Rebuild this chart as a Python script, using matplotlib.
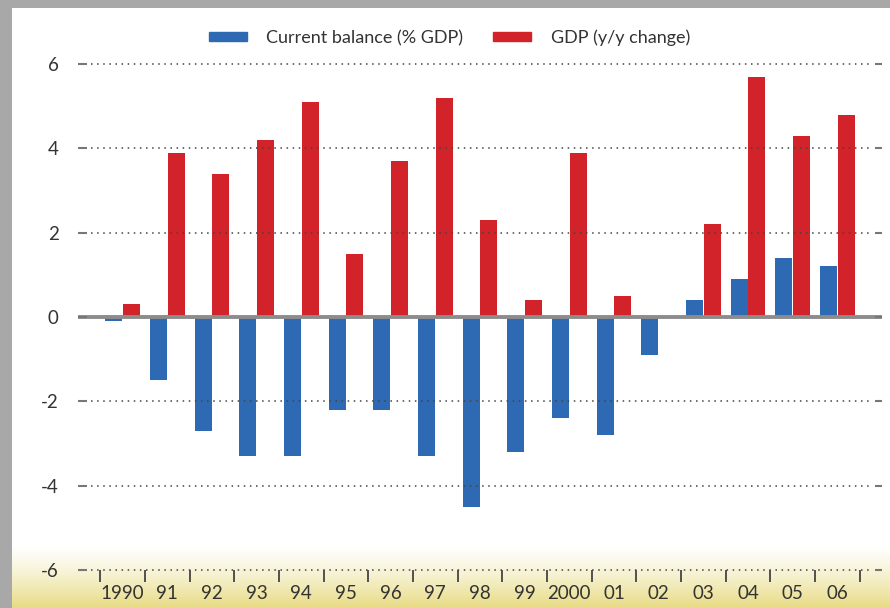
import numpy as np
import matplotlib
matplotlib.use("Agg")
import matplotlib.pyplot as plt
from matplotlib.patches import Rectangle

years = ["1990", "91", "92", "93", "94", "95", "96", "97", "98", "99",
         "2000", "01", "02", "03", "04", "05", "06"]
current_balance = [-0.1, -1.5, -2.7, -3.3, -3.3, -2.2, -2.2, -3.3, -4.5, -3.2,
                   -2.4, -2.8, -0.9, 0.4, 0.9, 1.4, 1.2]
gdp_change = [0.3, 3.9, 3.4, 4.2, 5.1, 1.5, 3.7, 5.2, 2.3, 0.4,
              3.9, 0.5, 0.02, 2.2, 5.7, 4.3, 4.8]
y_ticks = [-6, -4, -2, 0, 2, 4, 6]

blue = "#2e6ab3"
red = "#d2232a"
text_col = "#333333"
plt.rcParams['font.family'] = ['Lato', 'DejaVu Sans']

W, H = 890, 608
fig = plt.figure(figsize=(W / 100, H / 100), dpi=100)

# background: white with yellow fade at the bottom, grey frame top/left
bg = fig.add_axes([0, 0, 1, 1], zorder=-10)
bg.set_axis_off()
rows = np.linspace(0, 1, H)  # 0 = top
t = np.clip((rows * H - 545) / (H - 545), 0, 1) ** 1.3
top_c = np.array([1.0, 1.0, 1.0])
bot_c = np.array([0.91, 0.86, 0.52])
grad = top_c[None, :] * (1 - t[:, None]) + bot_c[None, :] * t[:, None]
img = np.repeat(grad[:, None, :], 10, axis=1)
bg.imshow(img, aspect='auto', extent=[0, 1, 0, 1])
bg.set_xlim(0, 1)
bg.set_ylim(0, 1)
bg.add_patch(Rectangle((0, 0), 12 / W, 1, color="#a8a8a8", lw=0))
bg.add_patch(Rectangle((0, 1 - 8 / H), 1, 8 / H, color="#a8a8a8", lw=0))

# axes: y=6 at px 64, y=-6 at px 570; extend a bit below so the -6 grid shows
ppu = (570 - 64) / 12
ax = fig.add_axes([78 / W, (H - 570 - 0.1 * ppu) / H, (882 - 78) / W,
                   (570 - 64 + 0.1 * ppu) / H])
ax.patch.set_alpha(0)

x = np.arange(len(years))
bw = 0.38
ax.bar(x - bw / 2 - 0.005, current_balance, bw, color=blue, zorder=3)
ax.bar(x + bw / 2 + 0.005, gdp_change, bw, color=red, zorder=3)

ax.set_xlim(-1, len(years))
ax.set_ylim(-6.1, 6)

for v in y_ticks:
    if v == 0:
        ax.axhline(0, color="#8c8c8c", lw=2.8, zorder=4)
    else:
        ax.hlines(v, -0.72, len(years) - 0.28, color="#444444", lw=1.1,
                  linestyles=(0, (1, 3)), zorder=5, clip_on=False)
    # short solid dashes at both ends
    ax.hlines(v, -1, -0.8, color="#777777", lw=1.5, zorder=5, clip_on=False)
    ax.hlines(v, len(years) - 0.16, len(years), color="#777777", lw=1.5,
              zorder=5, clip_on=False)
    # x-axis tick marks hang below the -6 line
for b in np.arange(len(years) + 1) - 0.5:
    ax.vlines(b, -6.28, -6, color="#444444", lw=1.3, clip_on=False)

for s in ax.spines.values():
    s.set_visible(False)

ax.set_yticks(y_ticks)
ax.set_yticklabels([str(v) for v in y_ticks], fontsize=13.5, color=text_col)
ax.tick_params(axis='y', length=0, pad=14)

ax.set_xticks(x)
ax.set_xticklabels(years, fontsize=13.5, color=text_col)
ax.tick_params(axis='x', length=0, pad=8)

handles = [Rectangle((0, 0), 1, 1, color=blue), Rectangle((0, 0), 1, 1, color=red)]
fig.legend(handles, ["Current balance (% GDP)", "GDP (y/y change)"],
           loc='center', bbox_to_anchor=(0.505, 1 - 38 / H), ncol=2,
           frameon=False, fontsize=13, handlelength=2.1, handleheight=0.4,
           handletextpad=1.1, columnspacing=1.65, labelcolor=text_col)

fig.savefig("out.png", dpi=100)
